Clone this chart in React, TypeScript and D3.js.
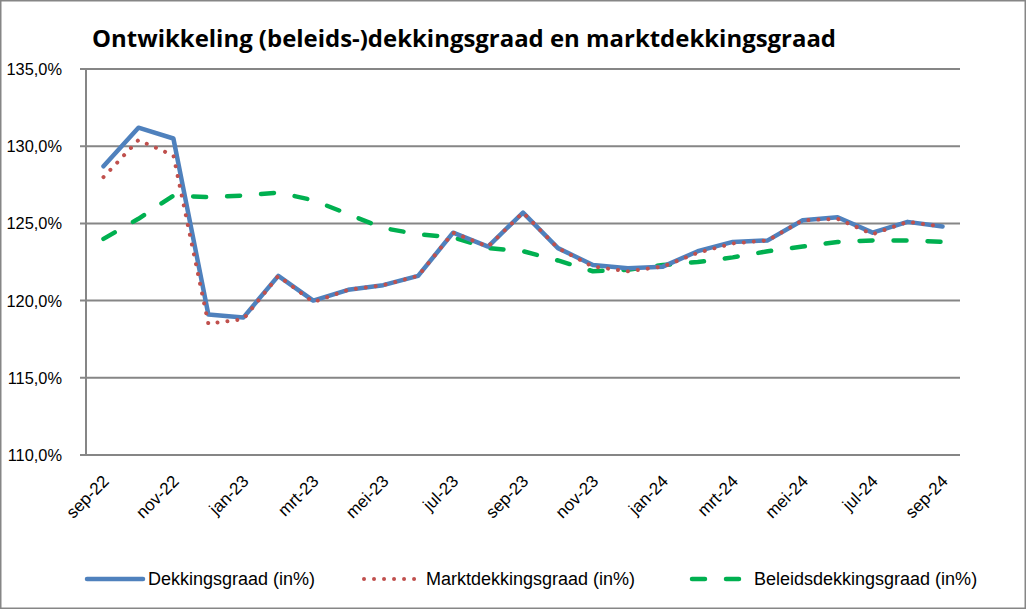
import React from "react";
import * as d3 from "d3";

const months = [
  "sep-22","okt-22","nov-22","dec-22","jan-23","feb-23","mrt-23","apr-23","mei-23","jun-23","jul-23","aug-23",
  "sep-23","okt-23","nov-23","dec-23","jan-24","feb-24","mrt-24","apr-24","mei-24","jun-24","jul-24","aug-24","sep-24",
];
const dekkingsgraad = [128.7,131.2,130.5,119.1,118.9,121.6,120.0,120.7,121.0,121.6,124.4,123.5,125.7,123.4,122.3,122.1,122.2,123.2,123.8,123.9,125.2,125.4,124.4,125.1,124.8];
const marktdekkingsgraad = [128.0,130.4,129.4,118.5,118.8,121.6,119.9,120.7,121.0,121.6,124.4,123.5,125.7,123.4,122.2,121.9,122.2,123.1,123.7,123.9,125.2,125.3,124.3,125.1,124.8];
const beleidsdekkingsgraad = [124.0,125.3,126.8,126.7,126.8,127.0,126.5,125.6,124.7,124.3,124.1,123.4,123.2,122.6,121.9,122.0,122.3,122.5,122.8,123.2,123.5,123.8,123.9,123.9,123.8];
const yTicks = [110,115,120,125,130,135];
const title = "Ontwikkeling (beleids-)dekkingsgraad en marktdekkingsgraad";
const legendLabels = ["Dekkingsgraad (in%)","Marktdekkingsgraad (in%)","Beleidsdekkingsgraad (in%)"];

const W = 1026, H = 609;
const left = 86, right = 960, top = 69, bottom = 455;
const font = "'Liberation Sans', Arial, sans-serif";

export default function App() {
  const x = d3.scaleBand<string>().domain(months).range([left, right]);
  const cx = (i: number) => (x(months[i]) as number) + x.bandwidth() / 2;
  const y = d3.scaleLinear().domain([110, 135]).range([bottom, top]);
  const line = (vals: number[]) =>
    d3.line<number>().x((_, i) => cx(i)).y((v) => y(v))(vals) as string;
  const fmt = (v: number) => v.toFixed(1).replace(".", ",") + "%";

  const series = [
    { vals: dekkingsgraad, color: "#4F81BD", width: 4.5, dash: undefined as string | undefined, cap: "round" },
    { vals: marktdekkingsgraad, color: "#C0504D", width: 4, dash: "0.01 10", cap: "round" },
    { vals: beleidsdekkingsgraad, color: "#00B050", width: 4.5, dash: "13 21", cap: "round" },
  ];
  const order = [2, 0, 1];
  const legendX = [
    { x1: 87, x2: 143, tx: 148 },
    { x1: 364, x2: 416, tx: 426 },
    { x1: 692, x2: 746, tx: 754 },
  ];

  return (
    <svg width={W} height={H} style={{ position: "absolute", left: 0, top: 0, background: "#fff" }} fontFamily={font}>
      <rect x={0.75} y={0.75} width={W - 1.5} height={H - 1.5} fill="#fff" stroke="#868686" strokeWidth={1.5} />
      <text x={92} y={47} fontSize={24} fontWeight="bold" fontFamily="'Open Sans', sans-serif" fill="#000" textLength={744} lengthAdjust="spacingAndGlyphs">{title}</text>
      {yTicks.map((t) => (
        <g key={t}>
          <line x1={left - 6} x2={right} y1={y(t)} y2={y(t)} stroke="#868686" strokeWidth={2} />
          <text x={62} y={y(t) + 6} textAnchor="end" fontSize={16.4} fill="#000">{fmt(t)}</text>
        </g>
      ))}
      <line x1={left} x2={left} y1={top} y2={bottom} stroke="#868686" strokeWidth={2} />
      {months.map((m, i) =>
        i % 2 === 0 ? (
          <text key={m} transform={`translate(${cx(i) - 2},${bottom + 19}) rotate(-45)`} textAnchor="end" dy="0.7em" fontSize={17} fill="#000">{m}</text>
        ) : null
      )}
      {order.map((k) => {
        const s = series[k];
        return (
          <path key={k} d={line(s.vals)} fill="none" stroke={s.color} strokeWidth={s.width} strokeDasharray={s.dash} strokeLinecap={s.cap as any} strokeLinejoin="round" />
        );
      })}
      {series.map((s, k) => (
        <g key={k}>
          <line x1={legendX[k].x1} x2={legendX[k].x2} y1={579} y2={579} stroke={s.color} strokeWidth={s.width} strokeDasharray={s.dash} strokeLinecap={s.cap as any} />
          <text x={legendX[k].tx} y={585} fontSize={18} fill="#000">{legendLabels[k]}</text>
        </g>
      ))}
    </svg>
  );
}
